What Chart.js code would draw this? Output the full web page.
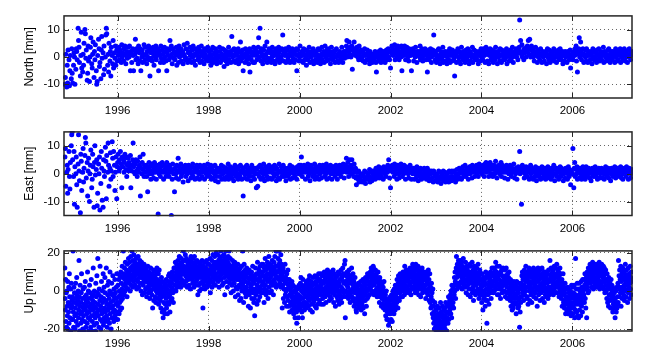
<!DOCTYPE html>
<html>
<head>
<meta charset="utf-8">
<script src="https://cdn.jsdelivr.net/npm/chart.js@4.4.1/dist/chart.umd.min.js"></script>
<style>
    html, body { margin: 0; padding: 0; background: #fff; }
    #wrap { position: relative; width: 656px; height: 361px; overflow: hidden; }
    #wrap canvas { position: absolute; left: 0; }
</style>
</head>
<body>
<div id="wrap"></div>
<script>
// GPS daily position residuals, North / East / Up, 1994.8 - 2007.3

// One row per year; the 1994 row holds the last samples of that year,
// the 2007 row the first ones.
const years = [1994, 1995, 1996, 1997, 1998, 1999, 2000, 2001, 2002, 2003, 2004, 2005, 2006, 2007];

// sample times inside a year for the horizontal components
const yearFractions = [
    0.00, 0.01, 0.03, 0.04, 0.05, 0.06, 0.08, 0.09, 0.10, 0.11,
    0.13, 0.14, 0.15, 0.16, 0.18, 0.19, 0.20, 0.21, 0.23, 0.24,
    0.25, 0.26, 0.28, 0.29, 0.30, 0.31, 0.33, 0.34, 0.35, 0.36,
    0.38, 0.39, 0.40, 0.41, 0.43, 0.44, 0.45, 0.46, 0.48, 0.49,
    0.50, 0.51, 0.53, 0.54, 0.55, 0.56, 0.58, 0.59, 0.60, 0.61,
    0.63, 0.64, 0.65, 0.66, 0.68, 0.69, 0.70, 0.71, 0.73, 0.74,
    0.75, 0.76, 0.78, 0.79, 0.80, 0.81, 0.83, 0.84, 0.85, 0.86,
    0.88, 0.89, 0.90, 0.91, 0.93, 0.94, 0.95, 0.96, 0.98, 0.99
];
const rowLengths = [13, 80, 80, 80, 80, 80, 80, 80, 80, 80, 80, 80, 80, 25];

// finer sample times for the vertical component
const upFractions = [
    0.000, 0.006, 0.013, 0.019, 0.025, 0.031, 0.038, 0.044,
    0.050, 0.056, 0.063, 0.069, 0.075, 0.081, 0.088, 0.094,
    0.100, 0.106, 0.113, 0.119, 0.125, 0.131, 0.138, 0.144,
    0.150, 0.156, 0.163, 0.169, 0.175, 0.181, 0.188, 0.194,
    0.200, 0.206, 0.213, 0.219, 0.225, 0.231, 0.238, 0.244,
    0.250, 0.256, 0.263, 0.269, 0.275, 0.281, 0.288, 0.294,
    0.300, 0.306, 0.313, 0.319, 0.325, 0.331, 0.338, 0.344,
    0.350, 0.356, 0.363, 0.369, 0.375, 0.381, 0.388, 0.394,
    0.400, 0.406, 0.413, 0.419, 0.425, 0.431, 0.438, 0.444,
    0.450, 0.456, 0.463, 0.469, 0.475, 0.481, 0.488, 0.494,
    0.500, 0.506, 0.513, 0.519, 0.525, 0.531, 0.538, 0.544,
    0.550, 0.556, 0.563, 0.569, 0.575, 0.581, 0.588, 0.594,
    0.600, 0.606, 0.613, 0.619, 0.625, 0.631, 0.638, 0.644,
    0.650, 0.656, 0.663, 0.669, 0.675, 0.681, 0.688, 0.694,
    0.700, 0.706, 0.713, 0.719, 0.725, 0.731, 0.738, 0.744,
    0.750, 0.756, 0.763, 0.769, 0.775, 0.781, 0.788, 0.794,
    0.800, 0.806, 0.813, 0.819, 0.825, 0.831, 0.838, 0.844,
    0.850, 0.856, 0.863, 0.869, 0.875, 0.881, 0.888, 0.894,
    0.900, 0.906, 0.913, 0.919, 0.925, 0.931, 0.938, 0.944,
    0.950, 0.956, 0.963, 0.969, 0.975, 0.981, 0.988, 0.994
];
const upRowLengths = [26, 160, 160, 160, 160, 160, 160, 160, 160, 160, 160, 160, 160, 49];

const xTicks = [1996, 1998, 2000, 2002, 2004, 2006];
const xMin = 1994.82;
const xMax = 2007.31;

const northTicks = [-10, 0, 10];
const eastTicks = [-10, 0, 10];
const upTicks = [-20, 0, 20];

// North [mm]
const northByYear = [
    [-10, -7.5, 1, -11, -3, -9.5, 2.5, -1, -10.5, -5, 0.5, -8, 3],
    [-6, -9.5, -3, 1.5, 0, -10, -4.5, 3, 2, -1, 10.5, 6, 3.5, -2, -7, 0.5, 9, -4, -5.5, 1, -3, 5, 10, 8.5, -0.5, 2.5, -8.5, -6, 4, -1.5, -9, 0, 3.5, 7, -2.5, -4, 1, 5.5, -7.5, 2,
     -1, 4.5, -5, -10, -9, 0.5, 6.5, 3, -3.5, -2, -8, 2.5, 7.5, -0.5, 1.5, -6.5, 4, -4.5, 0, 8, 10.5, 8.5, -3, 1, -5.5, 5, -1.5, 2, -7, 3.5, 0.5, -2.5, 6, -4, 1.5, -0.5, 4, -3, 2.5, -1.5],
    [2, 0.5, 3.5, -1, 2.5, 1, -2, 4.5, 0, 1.5, -1.5, 3, 1, 4, -2.5, 0.5, 2, -0.5, 3.5, 1, 0, 4, -5, 2, 1.5, -2, 3, 0.5, -5, 2.5, 1, 6.5, -1, 3, -0.5, 2, -2.5, 4, 1.5, -1.5,
     3, -5, 0, 2.5, -2, 1, 4.5, 0.5, -1, 3.5, 1, -2.5, 2, 0, 4, -1, 3, -7, 1.5, -0.5, 2, -1.5, 3.5, 1, -3, 2.5, 0, 4, -1, 1.5, 0.5, 3, -5, 2, 1, -2, 4, -0.5, 2.5, -1],
    [1, -2, 3.5, 0, 2, -1.5, -5, 1.5, 3, 0.5, -1, 2.5, 6, 0, 4, 1, -2.5, 3, -0.5, 1.5, 2, -1, 0.5, 3.5, -3, 1, 2.5, -2, 4, 0, 1.5, 3, -1.5, 0.5, 2, -2.5, 1, 4.5, 0, -1,
     3, -0.5, 5, -2, 1.5, 2, -1, 3.5, 0.5, 1, -2, 2.5, 0, 4, -1.5, 1, 3, -3, 0.5, 2, 1, -1, 3.5, 0, 2.5, -2, 1.5, 4, -1.5, 0.5, 2, 0, -2.5, 3, 1, -1, 2.5, -0.5, 3.5, -1.5],
    [0, 2, -1.5, 1, -3, 2.5, -0.5, 3.5, -2, 1, -1, 1.5, 3, 0, -2.5, 2, 0.5, -1.5, 0, 3.5, 2, -2, 0.5, 1, -1, 3, -0.5, -3.5, 2.5, 1, -1.5, 0, 2, -2.5, 1, 3.5, -1, 0.5, 2, -2,
     1, 7.5, 0, 2.5, -1.5, 3, 1, -2, 0.5, 2, -1, 1.5, 3, -2.5, 0, 2, 5.5, -1.5, 1, -0.5, 2.5, -5, 0, 1, -2, 3, 0.5, -1, 2, 1.5, -2.5, 0, 3, -5.5, 1.5, -1, 2, 0.5, -2, 3.5],
    [1, -2, 3, 0.5, 2, -1, 1.5, 3.5, 7, 0, 10.5, 2, -1.5, 3, 1, -2.5, 0, 2.5, -1, 4, 0.5, 1, 5.5, -2, 2, -0.5, 3, -1, 1.5, 2.5, -2, 0, 3.5, 1, -1.5, 2, 0.5, -2.5, 3, 1,
     2, -1, 0, 3.5, 1.5, -2, 2.5, 0, -1, 3, 8, 1, -1.5, 2, 0.5, 3, -2, 1, 2.5, -1, 0, 3.5, 1, -2, 2, 0.5, -1.5, 3, 1, -0.5, -2, 2, 1, -1, 3, -5, 0.5, 2.5, 1, -1.5],
    [0, 4, 1, -1.5, 2, 0.5, -2, 3, 1, -1, 2.5, 0, -3, 1, -1, 2, 0.5, 3.5, -2, 1, 0, 2, -1.5, 1, 3, -2.5, 0.5, 1.5, -1, 2, 1, -2, 0, 3, -1, 2.5, 0, -2.5, 1, 3.5,
     -1, 0.5, 2, -2, 1, 4, 0, -1.5, 2.5, 1, 3, -1, 0.5, 2, -2.5, 1, 3.5, 0, -1, 2, 0, 1.5, -2, 2.5, 0, 3, -1.5, 1, 0.5, -2, 2, 0, 1, -1, 3.5, 0.5, -2, 1.5, 2, -0.5],
    [2, 1, 4, 6, 0, 3, 2, 5.5, 1, 3.5, 0, 2.5, 4, -4.5, 1, 3, 5.5, 2, 0.5, 3, 1, 3.5, 0, 2, -1, 4, 1.5, 0, 2.5, -1, 0, 2, -1.5, 1, 3, -2, 0.5, 1, -1, 2.5,
     -1, 1, 0, -2.5, 2, 0.5, -1.5, 1, -2, 0, 1, -1, 0.5, 2, -2, -5.5, 1, 0, -1.5, 2, -1, 0, 2.5, -2, 1, 0.5, -1, 2, 0, 1.5, -2, 1, 0, 2.5, -1, 1.5, 3, 0, -1, 2],
    [-4, 2, 4, 1, 3, 0.5, 2, 4.5, -1, 1.5, 3, 0, 2.5, 4, 1, -1, 3.5, 2, 0, 4, -5, 1, 3, 0.5, 2, 4, -1, 2.5, 1, 3.5, 0, 2, -1.5, 3, 1, 0.5, 2.5, -5, 1, 3,
     1, -1.5, 2, 0, 3.5, 1, -2, 2, 0.5, 1, 2, 0, 4, -1, 1.5, 3, 0, -1.5, 2.5, 1, 0.5, 3, -1, 1, 2, -5.5, 0, 2.5, -1, 1.5, 3, 0, -2, 1, 2.5, 0.5, 8, 1, -1, 2],
    [1, -2, 0, 2.5, -1, 3, 0.5, -2.5, 1, 2, -1, 0, 3.5, -2, 1, 0.5, 2, -1.5, 1, -2.5, 0, 2, -1, 1.5, 3, -2, 0.5, 1, -1.5, 2.5, 1, -1, 0, -7, 2, 0.5, -2, 1.5, 3, 0,
     -1.5, 2, 0, -2.5, 1, 3.5, 0.5, -1, 2, 1, 0, -2, 1.5, 2.5, -1, 0, 3, 1, -2.5, 0.5, 2, -1.5, 1, 0, 3.5, -2, 0.5, 2.5, -1, 1, 0, 2, -1, 1.5, -2.5, 0.5, 2, 1, -1.5, 3],
    [0, 2, -1, 1.5, 3, 0.5, -2, 2.5, 3.5, 1, -1.5, 1, 2, -2.5, 0.5, 3, 1, -1, 2.5, 0, 1, -2, 0.5, 2, -1, 3.5, 0, 1.5, -2.5, 2, 0, 1, -1.5, 3, 0.5, -2, 2.5, 1, -1, 0,
     2, -1, 1.5, 0, 3, -2.5, 0.5, 2, 1, -1.5, 0, 2.5, -1, 1, 3.5, 0, -2, 1.5, 2, 0.5, 1, 3, 0, 2.5, -1, 1.5, 3.5, 13.5, 2, 6, 1, 4.5, 0, 2, -1, 3, 1.5, 2.5, 0, 3.5],
    [2, 4, 6, 1, 3, 6.5, 0, 2.5, 4, 1, 3, 0, 2, -1.5, 1, 3.5, 0.5, 2, -2, 1, 0, 2.5, -1, 1, 3, 0.5, -2, 1.5, 2, 0, -1.5, 1, 0.5, 2, -2.5, 1, 3, 0, -1, 2.5,
     1, -2, 0, 2, -1, 1.5, 0.5, 3, -1.5, 0, 2, 0.5, -2, 1, 0, 2.5, -1, 1.5, 3, 0, -1, 1, 2, -2.5, 0.5, 1, -1.5, 2, 0, 1.5, -2, 0.5, 2, 1, -1, 0, 2.5, -4, 1, 0],
    [0, -1, 2, 1, 0.5, 3, 4, -1.5, 2, -5.5, 1, 3, 7, 0, 5.5, 2, -1, 1, 3, 0.5, -2, 1, 2.5, 0, -1.5, 3, 1, -2, 0.5, 2, 1, -1, 0.5, 2, -2.5, 1.5, 3, 0, -1, 2,
     0, 1.5, -2, 2.5, 0.5, -1, 3, 1, -1.5, 0, 2, -1, 1, 0.5, 3.5, -2, 1, 2, 0, -1.5, 1, 0, 2.5, -1, 3, 0.5, -2, 1.5, 2, 0, -1, 2, 0.5, 1, -2, 1.5, 3, 0, -1.5, 2],
    [1, -1, 2, 0.5, 3, -2, 1.5, 0, 2, -1, 0.5, 3, 1, -1.5, 2, 0, 1, -2, 2.5, 0, 3, 1, -1, 0.5, 2]
];

// East [mm]
const eastByYear = [
    [6, 9, -4.5, 0.5, 3, -7, 1.5, 8, -1, -5.5, 4, 10, 14],
    [15, 5, -1, 8, -11, 2.5, 0, 6, -4, -12, 3.5, 14, 1, -2.5, -14, 7, 4.5, -6, 0.5, 9, -3, 2, 6.5, 13, 11, -1.5, 4, -8, 1, 5.5, -10, 0, 3, 8.5, -5, -2, 7, 2.5, -12, 4,
     10, -0.5, 1.5, 5, -11.5, -7, 3.5, 0, 6, -13, -3.5, 8, 2, -9.5, -12, 5, 1, -1, 9.5, 4.5, -9, 6.5, 0.5, 11, 3, -4.5, 2, 7.5, -2, 1, 11.5, 5.5, -1, 8, 3, -6, 0.5, 6, -9, 2.5],
    [4, 7, 1, 5, 2, 8, 3.5, -5, 6, 2.5, 5, 0.5, 4, 7, 1.5, 6, -1, 3, 5.5, 1, 4, 2, 6.5, -5, 3, 1, 5, 11, 2.5, 4, 0, 3.5, 5, 1, -1, 4.5, 2, 0.5, 3, 6,
     -8, 2, 0, 4, 1.5, 7, -1, 3, 2.5, 0.5, 3, -1, 2, -6.5, 1, 4, 0, 2.5, -2, 3.5, 1, 0, 3, -1.5, 2, 4, 0.5, 1.5, -2, 3, 2, -14.5, 1, 0, 3.5, -1, 2.5, 1, 4, 0.5],
    [1, -2, 3, 0.5, 2, -1, 4, 1.5, 0, 2.5, -1, 3, 0.5, 2, -15, 1, -2, 3.5, 0, 1.5, -6.5, 2, 0, -1.5, 3, 1, 5.5, -2, 2.5, 0.5, 1, 3.5, -1, 0, 2, -3, 1.5, 2.5, 0.5, 3,
     -1, 2, 0, 1.5, -2.5, 3, 1, 0.5, 2, -1.5, 0, 2.5, 3.5, -1, 1, 0.5, -2, 2, 1.5, 3, -1.5, 1, 0, 2.5, -2, 3, 0.5, 1, -1, 2, 1, 0.5, 3, -2, 1.5, 2, 0, -1, 3.5, 1],
    [0, 2, -1, 1.5, 3, -2, 0.5, 2.5, -1.5, 1, 0, 3, -2.5, 1, -1, 2, 0.5, -3, 1.5, 2, -1, 0.5, 3, -2, 1, 0, 2.5, -1.5, 1, -2, 0.5, 2, -1, 1.5, 3.5, -2, 0, 1, 2.5, -1,
     1, -1.5, 0, 2, -2.5, 1, 3, 0.5, -1, 2, 0, 1.5, -2, 2.5, 0, -1, 3, 1, -2, 0.5, 2, -8, 1, 0, -1.5, 2.5, 0, 3, -2, 1, 1.5, -1, 0, 2, -2.5, 1, 3, 0.5, -1, 2],
    [1, -2, 0, 2, -5, 1.5, -4.5, 0, 2.5, -1, 3, 0.5, -2, 1, 2, -1.5, 0, 3.5, -2.5, 1, 0, 2.5, -1, 1.5, -2, 0.5, 3, 1, -1.5, 2, 0.5, -2, 1, 2.5, 0, -1, 3, 0, 1.5, -2.5,
     2, 0, -1.5, 1, 3.5, -2, 0.5, 1, 2.5, -1, 0, 3, 1, -1, 2, 0.5, -2.5, 1.5, 0, 2, -1, 1.5, 0, 3, -2, 1, 0.5, 2.5, -1.5, 1, 0, 2, -1, 1.5, 0.5, -2, 2.5, 1, 0, 3],
    [2, 0, 3, 6, 1, -1, 2.5, 0.5, 3, 1.5, -2, 2, 0.5, 1, 3.5, -1, 2, 0, -2.5, 1.5, 3, 0.5, 2, -1, 1.5, 0, 3.5, -2, 1, 2.5, -1, 0.5, 2, 1, -2, 3, 0, 1.5, -1.5, 2,
     1, 3, 0.5, 2, -1, 1.5, 0, 3.5, -2, 2.5, 0.5, 1, -1.5, 2, 3, 0, 1.5, -2, 2.5, 0, 1, 2.5, -1, 0.5, 3, 1.5, -2, 2, 0, 1, 3, 0, 1.5, -1, 2, 0.5, 1, 3.5, -1.5, 2],
    [1, 3, 5.5, 0.5, 2, 4, -1, 2.5, 5, 1, 3, 0, 5, 2, 1.5, -1, 3.5, 0.5, 2, -1.5, -4, -1, 0.5, -2, 1, -3, -1.5, 0, -2.5, -0.5, -3, 0, -1, -2.5, 1, -1.5, -3.5, 0.5, -2, -1,
     0, -2, -1, 1.5, -3, 0.5, -1.5, -2.5, 1, 0, -1, 1, 0.5, -2, 2, 0, -1.5, 1.5, 0, 2.5, 1, -1.5, 0, 2, -1, 1.5, 0.5, -2, 2.5, 1, 0, 2, -1, 1.5, 0.5, 3, 1, 5, -1.5, 2],
    [-5, 2, 1, 3, 0.5, 2.5, -1, 3.5, 1, 0, 2, -2, 1.5, 3, 0, -1.5, 2.5, 1, 3.5, 0.5, 1, -1, 2, 0, 3, 1.5, -2, 2.5, 0.5, 1, 2, 0, -1.5, 1, 3, 0.5, 2, -2, 1.5, 0,
     0.5, 2, -2, 1, 0, -1.5, 2.5, 0, 1, -2.5, 1, -1, 0.5, 2, -2, 0, 1.5, -1.5, 0, 2, -1, 0.5, 1, -2, 0, 2, -1.5, 0, -2.5, 1, 0, -2, 1, -1.5, 0.5, -3, 1, 0, -1, -2.5],
    [-1, -2.5, 0, -3, -1.5, 1, -2, 0.5, -1, -3.5, -2, 0, -1.5, 1, -2.5, -1, 0.5, -3, -1, -2, 0, -1.5, -3, 1, -2, 0.5, -1, -2.5, 1, -1, -2, 0.5, 1, -1.5, -3, 0, -1, 1.5, -2, 0,
     0, 2, -1.5, 1, 0.5, -2, 1.5, 2.5, 0, -1, 1, 3, 0.5, -1, 2, 0, 1.5, -2, 1, 2.5, 0, 2.5, 1, -1.5, 3, 0.5, 2, 1, -1, 2, 1.5, 3, 0, 2, -1, 1, 3.5, 0.5, 2.5, 1],
    [2, 0, 3, 1.5, 2.5, -1, 3.5, 1, 4, 0.5, 2, 1, 3, -1, 2.5, 4, 1.5, 0, 3, 2, -1, 1.5, 3, 0, 2, 4.5, 1, -1.5, 2.5, 0.5, 3, 1, 0, 2.5, 4, -1, 1.5, 3, 0.5, 2,
     1, -1.5, 2, 0.5, 3, 1, -2, 2.5, 0, 1.5, 3, 0, 1.5, -1, 2, 0.5, 1, 3.5, -1.5, 1, 0, 2, -2, 1.5, 0.5, 2.5, 1, 8, 0, 2, -11, 1, 3, 0.5, 2, -1.5, 1, 0, 2.5, -1],
    [1, -1, 2, 0.5, -2, 1.5, 3, 0, -1.5, 2, 1, -2, 0.5, 1.5, -1, 2.5, 0, -2.5, 1, 0, 2, -1, 0, 1.5, -2, 0.5, 2.5, -1.5, 1, 0, -1, 2, 0.5, -2, 1.5, 0, -1.5, 2.5, 1, -1,
     0, 1, -2, 2, 0.5, -1, 1.5, 3, 0, -2.5, 1.5, 0, 2, -1, 0.5, 1, -2, 1, 2.5, 0, -1, 2, 0.5, 1, -2.5, 0, 1.5, -1.5, 2, 0.5, 1, -2, 0, 2.5, -1, 1.5, 0.5, -4, 1, 0],
    [0, 9, -5, 2, 4, -1, 1.5, 0, 2.5, -2, 1, 0.5, -1.5, 2, 0, 1.5, -2, 0.5, 2.5, -1, 1, 0, -2, 1.5, 2.5, 0.5, -1, 1, 0, 2, -1.5, 0.5, 1, -2.5, 0, 2, 1.5, -1, 0.5, 1,
     2.5, -1, 0, 1.5, -2, 0.5, 2, 1, -1.5, 0, 1, 2, 0.5, -1.5, 1.5, 0, -2, 1, 2.5, 0, -1, 1.5, 0, 2, -1.5, 0.5, 1, -2.5, 0, 2, 1, -1, 0.5, 1.5, 2.5, 0, -1.5, 1, 0, 2],
    [0, 2, -1, 1.5, 0.5, 2.5, -1.5, 1, 0, -2, 1, 2, 0.5, 1.5, -1, 2.5, 0, 1, -2, 0.5, 2, 1, -1.5, 0, 1.5]
];

// Up [mm]
const upByYear = [
    [12, -4, -10, 6, -16, -1, -19, 0, -8, -13, 5, -20, -6, -11, 2, -17, 9, -3, -14, -7, 1, -21, -9, 4, -15, -5],
    [-8, -3, -15, 21, -11, -19, 2, -6, -1, -13, -20, -9, 4, -4, -16, -12, 7, -2, -7, -18, -5, 0, -14, -10, 16, -3, -21, -8, 3, -12, -17, -6, -1, 9, -11, -15, -4, -20, 1, -9,
     -13, -21, -7, 2, -16, -3, 5, -10, -19, -5, -2, -12, -8, -17, 10, -6, -14, 0, -21, -4, -11, 3, -15, -9, -1, -19, -7, 6, -13, -3, -21, -16, -5, -10, 12, -2, -8, -18, 0, -12,
     -6, -14, -21, 4, -9, -3, -17, 8, -11, -1, 17, -7, -13, -2, -19, 1, -10, -5, 13, -15, -8, -20, -3, 5, -12, -16, 0, -6, -10, 9, -18, -4, 2, -14, -9, 7, -1, -11, -16, -5,
     12, -13, -7, -19, 3, -2, -10, -15, 5, -8, -4, -17, 0, 10, -12, -6, -1, -20, -9, 4, -14, -2, -8, 8, -11, -5, -16, 1, -3, -10, 6, -13, -1, -7, -15, 2, -4, 9, -11, -6],
    [-15, 3, -8, -3, 6, -12, 0, -6, 8, -10, -2, 10, -5, 4, -9, 1, 13, -4, 7, -1, 21, 3, 9, -2, 12, 6, 0, 15, 4, 8, 2, 11, 7, -3, 14, 5, 9, 1, 17, 6,
     10, 4, 15, 8, 0, 12, 18, 6, 3, 11, 21, 7, 13, 2, 16, 9, 5, 19, 11, 14, 8, 15, 3, 12, 17, 6, 10, 1, 14, 9, 12, 5, 18, 9, 2, 14, 7, 11, 16, 4,
     9, 13, 0, 7, 15, 4, 11, -2, 8, 12, 3, 10, 6, 14, -1, 8, 12, 5, 1, 9, 7, 11, -3, 5, 9, 2, 13, 6, -1, 4, 10, 1, 6, -4, 8, 3, 12, 0, 5, 7,
     -2, 9, 4, -9, 6, 1, 11, -5, 3, 7, 5, -3, 8, 2, -6, 10, 0, 4, 12, -1, 6, -4, 3, 9, -7, 1, 11, -2, 5, 0, -5, 4, -9, 2, 7, -3, 0, -11, 5, -1],
    [-14, 2, -6, -10, 4, -2, -12, 0, -7, 3, -4, 6, -9, -1, 1, -12, 5, -6, -3, 8, -7, 3, 9, -2, -11, 5, 0, -5, 7, 2, 4, -4, 10, 1, -1, 8, -6, 6, 12, 0,
     8, 12, 3, 15, 7, 0, 10, 5, 14, 2, 11, 6, 16, 9, 3, 13, 7, 18, 10, 4, 14, 8, 2, 12, 17, 6, 10, 15, 4, 11, 9, 21, 13, 5, 16, 10, 3, 12, 19, 8,
     5, 11, 17, 7, 13, 2, 15, 9, 12, 6, 14, 3, 10, 16, 8, 12, 1, 11, 18, 7, 10, 15, 6, 13, 4, 17, 9, 11, 2, 14, 18, 7, 12, 3, 15, 10, 5, 13, 8, 16,
     6, 12, -2, 10, 15, 3, 8, 13, 0, 9, 11, 4, 14, 7, 1, 12, 9, 16, 5, 10, -9, 8, 13, 3, 10, 6, 15, 1, 11, 7, 12, 5, 9, 16, 2, 11, 7, 14, 4, 10],
    [8, 14, 3, 11, 6, 17, -1, 10, 5, 13, 9, 16, 2, 12, 7, 19, 10, 4, 14, 8, 11, 18, 6, 15, 3, 9, 13, 20, 7, 12, 14, 7, 19, 12, 5, 16, 10, 2, 13, 17,
     8, 15, 11, 21, 6, 13, 18, 9, 3, 14, 12, 16, 4, 10, 19, 7, 14, -2, 11, 17, 21, 9, 13, 5, 16, 11, 2, 15, 8, 18, 7, 14, 21, 10, 4, 12, 17, 6, 13, -1,
     8, 13, 3, 10, 16, 6, 12, 0, 9, 14, 4, 11, 15, 7, -3, 13, 9, 2, 12, 6, 10, 1, 8, 14, -2, 6, 11, 3, 9, -5, 7, 12, 2, 9, -4, 5, 13, 0, 8, 4,
     21, 3, 10, -6, 6, 14, 1, 8, -1, 11, 5, -3, 9, 2, 12, -1, 7, 0, 10, 4, -8, 4, 11, -2, 6, 0, 9, -9, 2, 7, 3, 10, -4, 6, 1, 13, -1, 5, 8, -6],
    [4, -4, -13, 8, 1, 12, -2, 6, 9, -1, -7, 3, 15, 0, 9, -5, 5, 11, 2, 7, -3, 13, 7, 1, 10, -1, 5, 14, 8, 3, 10, -1, 14, 4, 8, -6, 12, 1, 6, 17,
     3, 11, -2, 7, 13, 0, 9, 15, 5, -4, 12, 6, 18, 2, 9, 14, -1, 7, 11, 4, 8, 0, 13, 5, 16, 10, 3, 12, -2, 9, 15, 6, 11, 18, 4, 13, 8, 21, 2, 10,
     21, 7, 13, 3, 17, 10, 6, 14, 21, 11, 16, 4, 12, 8, 19, 2, 10, 14, 6, -9, 8, 3, 12, -4, 6, 1, 10, -6, 5, 14, -2, 7, 0, 4, -8, 9, 1, -3, 6, 11,
     -5, 3, -8, 1, 6, -11, -2, 4, -6, 0, 2, -7, -3, 5, -10, -1, -5, 3, -8, -12, -6, 0, -10, -3, -14, 2, -8, -5, -1, -11, -17, -4, -9, 1, -6, -14, -2, -10, 3, -7],
    [-5, 2, -9, 4, -3, 7, -7, 0, -11, 3, -14, -4, 6, -1, -8, 2, -6, -10, 1, -2, -6, 3, -3, 5, -9, 0, 4, -7, 1, -4, 2, -8, 6, -2, -5, 8, -1, 3, -10, 0,
     -4, 5, -7, 1, -1, -11, 3, -3, 7, -6, 0, -5, 4, -2, 8, -8, 1, 5, -3, -9, 3, -4, 7, -1, -7, 5, 0, 9, -2, 2, -5, 6, 1, -2, 9, 3, -7, 4, 0, 8,
     5, -4, 9, 1, -7, 4, -2, 10, 0, 6, -3, 7, 2, -6, 8, 1, -1, 5, 11, 3, 9, -2, 4, 0, 7, -5, 2, 6, -3, 10, 1, 5, -4, 8, 3, -1, 6, 0, 11, 2,
     -6, 4, 9, -2, 6, 1, -8, 7, 3, 0, 5, -3, 2, 8, -5, 0, 10, -1, 4, -7, 3, 9, -2, 6, 0, -4, 11, 2, -6, 7, 8, 1, 12, -3, 5, 9, -1, 4, 14, 0],
    [16, -14, 5, 0, 8, -3, 3, 10, -1, 6, 2, 9, -4, 4, 11, -2, 7, 0, -6, 5, 8, -1, 4, 12, -3, 6, 1, -5, 9, 3, -4, 5, -8, 2, -1, 7, -6, 0, 3, -10,
     -11, -4, 2, -7, 1, -2, -9, 4, -5, 0, -3, -8, 3, -1, -6, 5, -4, -10, 1, -2, -7, 2, -3, 6, -9, 0, -5, 4, -1, -12, 3, -5, 7, -2, 1, -8, 5, 0, -4, 9,
     7, -3, 5, 9, 1, 3, -2, 8, 4, 10, 2, 8, 12, 0, 6, -1, 10, 4, 7, 13, 12, 3, -2, 8, 4, 0, 6, 11, -1, 5, 9, 1, 5, -3, 7, 2, 10, -1, 4, 6,
     2, -6, 7, 0, -3, 5, -1, 3, -8, 1, -4, 4, -7, 0, 2, -9, -2, 5, -5, -1, -4, -10, -2, -13, -7, 0, -8, -15, -5, -11, -6, -15, -9, -18, -4, -12, -7, -16, -10, -3],
    [-12, -5, -15, -8, -2, -10, -16, -4, -7, 0, -9, -3, -12, 1, -6, -1, -10, 3, -5, -8, -3, 3, -6, 6, -1, 1, -9, 4, 8, -4, 2, -5, 6, -1, 9, 0, 4, -3, 7, 3,
     2, 8, -3, 5, 10, 0, 7, 1, 4, -2, 13, 3, 9, -1, 6, 11, 2, 8, 0, 5, 9, 1, 6, 11, -1, 5, 3, 8, 0, 12, 4, 10, -2, 7, 12, 2, 8, 5, 14, 1,
     5, 10, 1, 7, 12, 3, 9, -1, 6, 14, 4, 8, 12, 0, 11, 2, 7, 13, 5, -2, 9, 3, 6, 10, 1, 7, -3, 11, 4, 8, 2, 12, 5, -1, 9, 6, 0, 10, 3, 7,
     6, 1, 9, 3, -4, 7, 10, 0, 5, -1, 8, -2, 4, 11, 1, 6, -5, 3, 9, 0, -6, 2, -9, -3, 4, -8, -1, -12, -5, 1, -14, -8, -17, -11, -20, -15, -6, -13, -19, -10],
    [-17, -10, -21, -14, -19, -8, -21, -16, -12, -20, -15, -21, -9, -18, -13, -20, -6, -16, -11, -19, -21, -12, -17, -8, -19, -14, -21, -10, -16, -13, -18, -9, -20, -13, -6, -16, -11, -21, -15, -7,
     -14, -8, -17, -11, -3, -15, -7, -12, -5, -10, -9, -2, -12, 0, -6, -14, 3, -4, -8, 1, -6, 1, -9, 3, -2, 7, 0, 10, 5, -4, 4, 12, 18, 7, 1, 14, 9, 3, 11, 16,
     10, 4, 14, 8, 12, 2, 16, 9, 5, 11, 15, 7, 1, 13, 9, 4, 17, 6, 11, 3, 8, 12, 2, 10, 15, 5, -1, 9, 13, 6, 11, 3, 8, -2, 13, 6, 1, 10, 4, 14,
     8, -3, 13, 6, 1, 10, 4, 15, -1, 7, 2, 11, -5, 8, 4, 13, 0, 9, 6, -2, 10, 3, 7, 12, -1, 5, 9, 1, 14, 6, 4, -4, 8, 1, 11, -2, 6, 0, 9, 3],
    [2, -6, 9, -2, 5, -10, 0, 7, -4, 3, -3, 6, -1, -8, 4, 10, -5, 1, 8, -17, 1, -5, 7, -2, 3, 9, -7, 0, 5, -1, 6, -1, 10, 2, -4, 8, 4, 12, 0, 5,
     3, 9, -1, 12, 5, 0, 7, 11, 2, 8, 15, 6, 1, 10, 4, 13, -2, 8, 3, 9, 8, -2, 6, 13, 1, 9, 4, -4, 10, 5, 2, 11, 5, -1, 8, 3, 12, 0, 7, 4,
     7, 0, 11, 3, -3, 8, 5, 12, -1, 6, 2, -4, 9, 4, -1, 7, 0, 10, -3, 5, 2, -5, 6, -1, -8, 4, -3, 1, -10, 0, -6, 3, -9, -1, 5, -4, 1, -7, -2, 2,
     -6, 3, -12, -2, 5, -7, -4, 0, 1, -9, -1, -8, 4, -5, -19, 2, -11, -3, -6, 3, 4, -3, 8, 1, 10, -1, 6, 2, -5, 9, 3, 11, -2, 7, 0, 5, 13, 2, 8, -4],
    [6, -3, 10, 2, -7, 8, 4, 12, 0, 5, -5, 9, 3, 11, -2, 7, 1, -6, 10, 4, 8, 0, 5, 12, -3, 6, 2, 9, -1, 11, 3, 7, -4, 10, 1, 5, -8, 8, 2, 12,
     5, -2, 9, 0, 6, 11, -5, 3, 8, 1, -1, 7, 2, 12, 4, -4, 9, 0, 6, 10, 3, -6, 8, 1, 10, -2, 5, 0, 7, -3, 6, -1, 4, 9, -4, 2, 11, 0, 5, -2,
     6, 16, 2, 8, -1, 12, 5, 9, 0, 7, 10, 3, 11, -2, 6, 1, 13, 4, 8, -1, 7, 12, 2, 9, 4, 14, -1, 8, 5, 11, 3, 10, 6, -3, 8, 1, 12, 5, -1, 9,
     3, -4, 1, 6, -8, -2, 4, 9, 0, -6, -5, 2, -9, -1, 4, -7, -12, -3, 1, -6, -10, -3, -7, 2, -12, -5, 1, -9, -1, -6, -4, -11, 0, -7, -2, -13, -6, 3, -9, -3],
    [-8, 2, -12, -4, -1, -9, 3, -6, -14, -3, -10, 17, -2, -7, 1, -11, -5, 4, -13, -4, -3, 1, -14, -7, 4, -10, -2, 0, -5, -13, -4, 5, -8, 2, -1, -11, 6, -6, 0, -3,
     -2, 6, -6, 3, 9, -4, 1, -9, 4, 7, -14, 5, 10, 2, 8, -1, 12, 4, 0, 7, 12, 6, 14, 9, 4, 11, 7, 13, 2, 10, 8, 15, 5, 12, 1, 9, 13, 6, 11, 3,
     10, 4, 14, 7, 12, 2, 9, 5, 13, 11, 6, 13, 3, 10, 15, 8, 1, 12, 9, 5, 11, 4, 9, 14, 2, 12, 7, 10, 5, 13, 8, 1, 12, 5, -1, 9, 3, 11, 6, 0,
     6, -4, 9, 1, -6, 5, 3, -8, 7, -2, 2, -5, 4, -2, -9, 1, 6, -4, -1, 3, -5, 2, -11, -3, -7, 0, -9, -1, -6, 1, -14, -4, -8, 0, -11, -6, 2, -9, -3, -7],
    [4, -6, 16, 2, 8, -3, 11, 1, 6, -1, 13, -8, 5, 2, 9, -4, 7, 12, 0, 10, -2, 6, 3, -5, 9, 1, 14, 4, -3, 7, 11, 0, 5, 8, -6, 3, 12, -1, 6, 2,
     9, -4, 4, 13, 1, 7, -2, 10, 5]
];

// Panel placement on the page (chart area edges, px)
const panels = [
    { label: 'North [mm]', rows: northByYear, fractions: yearFractions, lengths: rowLengths, ticks: northTicks, min: -15, max: 15, top: 15, bottom: 98 },
    { label: 'East [mm]', rows: eastByYear, fractions: yearFractions, lengths: rowLengths, ticks: eastTicks, min: -15, max: 15, top: 131.5, bottom: 215.5 },
    { label: 'Up [mm]', rows: upByYear, fractions: upFractions, lengths: upRowLengths, ticks: upTicks, min: -21, max: 21, top: 250, bottom: 331 }
];

const AREA_LEFT = 64;
const AREA_RIGHT = 632;
const PAGE_W = 656;

Chart.defaults.font.family = "'Liberation Sans', Arial, Helvetica, sans-serif";
Chart.defaults.color = '#000';

// Turn the per-year rows into {x, y} points
function buildPoints(p) {
    const pts = [];
    p.rows.forEach((row, r) => {
        if (row.length !== p.lengths[r]) {
            throw new Error(`${p.label}: row ${years[r]} has ${row.length} values, expected ${p.lengths[r]}`);
        }
        const fr = r === 0
            ? p.fractions.slice(p.fractions.length - row.length)
            : p.fractions.slice(0, row.length);
        row.forEach((v, k) => pts.push({ x: years[r] + fr[k], y: v }));
    });
    return pts;
}

// Box around the axes and inward tick marks, matlab style
const framePlugin = {
    id: 'frame',
    afterDatasetsDraw(chart) {
        const { ctx, chartArea: a, scales: { x, y } } = chart;
        ctx.save();
        ctx.strokeStyle = '#262626';
        ctx.lineWidth = 1;
        ctx.beginPath();
        x.ticks.forEach(t => {
            const px = Math.round(x.getPixelForValue(t.value)) + 0.5;
            ctx.moveTo(px, a.bottom); ctx.lineTo(px, a.bottom - 5);
            ctx.moveTo(px, a.top); ctx.lineTo(px, a.top + 5);
        });
        y.ticks.forEach(t => {
            const py = Math.round(y.getPixelForValue(t.value)) + 0.5;
            ctx.moveTo(a.left, py); ctx.lineTo(a.left + 5, py);
            ctx.moveTo(a.right, py); ctx.lineTo(a.right - 5, py);
        });
        ctx.stroke();
        ctx.lineWidth = 1.5;
        ctx.strokeRect(a.left, a.top, a.right - a.left, a.bottom - a.top);
        ctx.restore();
    }
};

const wrap = document.getElementById('wrap');

panels.forEach(p => {
    const canvasTop = Math.floor(p.top) - 10;
    const padTop = p.top - canvasTop;
    const height = Math.ceil(p.bottom - canvasTop) + 30;
    const xAxisH = height - (p.bottom - canvasTop);

    const canvas = document.createElement('canvas');
    canvas.width = PAGE_W;
    canvas.height = height;
    canvas.style.top = canvasTop + 'px';
    wrap.appendChild(canvas);

    new Chart(canvas.getContext('2d'), {
        type: 'scatter',
        data: {
            datasets: [{
                data: buildPoints(p),
                backgroundColor: '#0000ff',
                pointBackgroundColor: '#0000ff',
                pointBorderWidth: 0,
                pointRadius: 2.5,
                clip: 1
            }]
        },
        options: {
            responsive: false,
            animation: false,
            devicePixelRatio: 1,
            events: [],
            layout: { padding: { top: padTop, right: PAGE_W - AREA_RIGHT, left: 0, bottom: 0 } },
            plugins: { legend: { display: false }, tooltip: { enabled: false } },
            scales: {
                x: {
                    type: 'linear',
                    min: xMin,
                    max: xMax,
                    afterBuildTicks: s => { s.ticks = xTicks.map(v => ({ value: v })); },
                    afterFit: s => { s.height = xAxisH; },
                    border: { display: false, dash: [1, 3] },
                    grid: { color: '#666', lineWidth: 1, drawTicks: false },
                    ticks: { padding: 6, font: { size: 11.5 }, callback: v => String(v) }
                },
                y: {
                    min: p.min,
                    max: p.max,
                    afterBuildTicks: s => { s.ticks = p.ticks.map(v => ({ value: v })); },
                    afterFit: s => { s.width = AREA_LEFT; },
                    border: { display: false, dash: [1, 3] },
                    grid: { color: '#666', lineWidth: 1, drawTicks: false },
                    ticks: { padding: 4, font: { size: 11.5 }, callback: v => String(v) },
                    title: { display: true, text: p.label, font: { size: 12 }, padding: { top: 22, bottom: 0 } }
                }
            }
        },
        plugins: [framePlugin]
    });
});
</script>
</body>
</html>
